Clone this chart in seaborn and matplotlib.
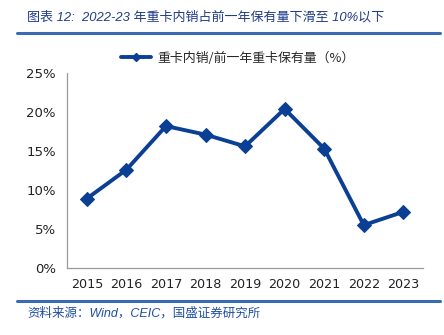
import matplotlib
matplotlib.use("Agg")
import matplotlib.pyplot as plt
import seaborn as sns
import pandas as pd
import numpy as np
from matplotlib.lines import Line2D
from matplotlib.ticker import FixedLocator, FuncFormatter

years = ["2015", "2016", "2017", "2018", "2019", "2020", "2021", "2022", "2023"]
ratio = [8.9, 12.6, 18.2, 17.1, 15.6, 20.4, 15.3, 5.5, 7.2]
series_name = "重卡内销/前一年重卡保有量（%）"
title = "图表 12:  2022-23 年重卡内销占前一年保有量下滑至 10%以下"
source = "资料来源：Wind，CEIC，国盛证券研究所"
yticks = [0, 5, 10, 15, 20, 25]

sns.set_theme(style="white")
plt.rcParams["font.family"] = ["DejaVu Sans", "Noto Sans CJK SC"]

df = pd.DataFrame({"year": years, "ratio": ratio})

fig = plt.figure(figsize=(4.44, 3.35), dpi=100)
ax = fig.add_axes([0.151, 0.2, 0.802, 0.582])

line_color = "#0B3F94"
sns.lineplot(data=df, x="year", y="ratio", ax=ax, color=line_color, linewidth=2.8,
             marker="D", markersize=7, markeredgecolor=line_color, sort=False)

ax.set_ylim(0, 25)
ax.set_xlim(-0.5, len(years) - 0.5)
ax.set_yticks(yticks)
ax.yaxis.set_major_formatter(FuncFormatter(lambda v, p: f"{v:.0f}%"))
ax.set_xticks(range(len(years)))
ax.set_xticklabels(years)
ax.xaxis.set_minor_locator(FixedLocator(np.arange(-0.5, len(years), 1.0)))
ax.tick_params(axis="x", which="major", length=0, labelsize=9.2, pad=7, colors="#222222")
ax.tick_params(axis="x", which="minor", length=4, width=0.8, direction="in", color="#999999")
ax.tick_params(axis="y", which="major", length=4, width=0.8, direction="in", color="#999999",
               labelsize=9.5, pad=8, labelcolor="#222222")
ax.set_xlabel("")
ax.set_ylabel("")
for s in ["top", "right"]:
    ax.spines[s].set_visible(False)
for s in ["left", "bottom"]:
    ax.spines[s].set_color("#999999")
    ax.spines[s].set_linewidth(0.9)

handle = Line2D([], [], color=line_color, linewidth=2.8, marker="D", markersize=4)
leg = ax.legend([handle], [series_name], loc="center", bbox_to_anchor=(0.48, 1.077),
                frameon=False, handlelength=2.3, handletextpad=0.5,
                prop={"family": ["Noto Sans CJK SC", "DejaVu Sans"], "size": 9.3})

fig.text(0.061, 0.948, title, fontsize=9.4, color="#1F3C88", style="italic",
         family=["Liberation Sans", "Noto Sans CJK SC"], va="center")
fig.add_artist(Line2D([0.038, 0.99], [0.902, 0.902], color="#3A6BB0", linewidth=2.2))
fig.add_artist(Line2D([0.038, 0.99], [0.101, 0.101], color="#3A6BB0", linewidth=2.2))
fig.text(0.061, 0.065, source, fontsize=9, color="#1F4FA0", style="italic",
         family=["Liberation Sans", "Noto Sans CJK SC"], va="center")

fig.savefig("out.png", dpi=100)
